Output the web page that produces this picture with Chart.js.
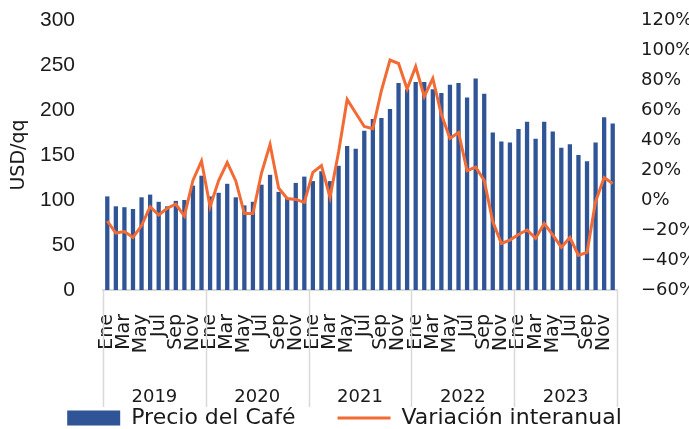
<!DOCTYPE html>
<html>
<head>
<meta charset="utf-8">
<script src="https://cdn.jsdelivr.net/npm/chart.js@4.4.1/dist/chart.umd.min.js"></script>
<style>
  body { margin: 0; background: #fff; }
  #wrap { width: 689px; height: 429px; }
</style>
</head>
<body>
<div id="wrap"><canvas id="myChart"></canvas></div>
<script>
const years = ['2019', '2020', '2021', '2022', '2023'];
const monthNames = ['Ene', 'Feb', 'Mar', 'Abr', 'May', 'Jun', 'Jul', 'Ago', 'Sep', 'Oct', 'Nov', 'Dic'];
const months = years.flatMap(() => monthNames);

// USD/qq, monthly Ene 2019 - Dic 2023
const precio = [
    104, 93, 92, 90, 103, 106, 98, 93, 99, 100, 116, 127,
    104, 108, 118, 103, 94, 98, 117, 128, 109, 102, 119, 126,
    121, 132, 121, 138, 160, 157, 177, 190, 191, 201, 230, 223,
    231, 231, 223, 219, 228, 230, 214, 235, 218, 175, 165, 164,
    179, 187, 168, 187, 176, 158, 162, 150, 143, 164, 192, 185
];
// year on year change, %
const variacion = [
    -14, -22, -21, -25, -17, -4.5, -10, -5.5, -2.7, -10.7, 13, 26,
    -4.5, 13, 25, 12.7, -9, -9, 18, 37, 8, 1, 0.4, -1.6,
    18.4, 23, 1.8, 32, 67, 58, 49, 47.6, 73, 93.3, 91, 74,
    89, 69, 81, 57, 41, 45, 19.6, 22, 13, -14.4, -29, -26.7,
    -23, -20, -25.6, -15.6, -23.3, -31.6, -25, -37, -35, -1, 15, 11
];

const font = 'DejaVu Sans';
const grey = '#d9d9d9';
const ink = '#1a1a1a';

// vertical separators between the year groups, under the x axis
const yearLines = {
    id: 'yearLines',
    afterDraw(chart) {
        const s = chart.scales.year;
        const ctx = chart.ctx;
        ctx.save();
        ctx.strokeStyle = grey;
        ctx.lineWidth = 1.5;
        for (let i = 0; i <= years.length; i++) {
            const x = Math.round(s.getPixelForDecimal(i / years.length)) + 0.5;
            ctx.beginPath();
            ctx.moveTo(x, chart.chartArea.bottom);
            ctx.lineTo(x, s.bottom);
            ctx.stroke();
        }
        ctx.restore();
    }
};

// fixed axis width, and keep the tick padding from pushing the plot down
const fitY = width => s => {
    s.width = width;
    s.paddingTop = 20;
    s.paddingBottom = 10;
};

Chart.defaults.font.family = font;
Chart.defaults.color = ink;

new Chart('myChart', {
    type: 'bar',
    data: {
        labels: months,
        datasets: [
            {
                label: 'Precio del Café',
                data: precio,
                backgroundColor: '#2f5597',
                barPercentage: 0.5,
                categoryPercentage: 1,
                yAxisID: 'y',
                order: 2
            },
            {
                type: 'line',
                label: 'Variación interanual',
                data: variacion,
                borderColor: '#f26b35',
                backgroundColor: '#f26b35',
                borderWidth: 3,
                pointRadius: 0,
                tension: 0,
                yAxisID: 'y2',
                order: 1
            }
        ]
    },
    options: {
        responsive: true,
        maintainAspectRatio: false,
        animation: false,
        layout: { padding: 0 },
        plugins: {
            tooltip: { enabled: false },
            legend: {
                position: 'bottom',
                maxHeight: 22,
                labels: {
                    font: { size: 22 },
                    color: ink,
                    usePointStyle: true,
                    pointStyleWidth: 53,
                    boxHeight: 15,
                    padding: 0,
                    sort: (a, b) => a.datasetIndex - b.datasetIndex,
                    generateLabels(chart) {
                        const items = Chart.defaults.plugins.legend.labels.generateLabels(chart);
                        items.forEach(it => {
                            it.pointStyle = it.datasetIndex === 0 ? 'rect' : 'line';
                            if (it.datasetIndex === 0) it.text += '\u00a0'.repeat(6);
                        });
                        return items;
                    }
                }
            }
        },
        scales: {
            x: {
                position: 'bottom',
                weight: 0,
                grid: { display: false, drawTicks: false },
                border: { color: grey, width: 2 },
                ticks: {
                    autoSkip: false,
                    minRotation: 90,
                    maxRotation: 90,
                    padding: 24,
                    font: { size: 19 },
                    color: ink,
                    callback: (v, i) => (i % 2 === 0 ? months[i] : '')
                },
                afterFit: s => { s.height = 78; }
            },
            year: {
                type: 'category',
                labels: years,
                position: 'bottom',
                weight: 1,
                offset: true,
                grid: { display: false, drawTicks: false },
                border: { display: false },
                ticks: { padding: 19, font: { size: 18 }, color: ink },
                afterFit: s => { s.height = 39; }
            },
            y: {
                position: 'left',
                min: 0,
                max: 300,
                ticks: {
                    stepSize: 50,
                    padding: 28,
                    font: { family: 'Liberation Sans', size: 21 },
                    color: ink
                },
                grid: { display: false, drawTicks: false },
                border: { display: false },
                title: {
                    display: true,
                    text: 'USD/qq',
                    font: { size: 19 },
                    color: ink,
                    padding: { top: 8, bottom: 0 }
                },
                afterFit: fitY(103)
            },
            y2: {
                position: 'right',
                min: -60,
                max: 120,
                ticks: {
                    stepSize: 20,
                    padding: 24,
                    font: { size: 18 },
                    color: ink,
                    callback: v => (v < 0 ? '\u2212' + Math.abs(v) : v) + '%'
                },
                grid: { display: false, drawTicks: false },
                border: { display: false },
                afterFit: fitY(72)
            }
        }
    },
    plugins: [yearLines]
});
</script>
</body>
</html>
